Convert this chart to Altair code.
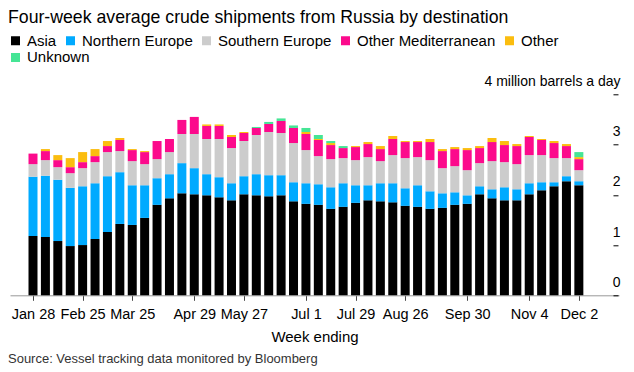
import altair as alt
import pandas as pd

FONT = "Liberation Sans"

title_text = "Four-week average crude shipments from Russia by destination"
source_text = "Source: Vessel tracking data monitored by Bloomberg"

weeks = [d.strftime("%Y-%m-%d") for d in pd.date_range("2023-01-28", periods=45, freq="7D")]

categories = ["Asia", "Northern Europe", "Southern Europe", "Other Mediterranean", "Other", "Unknown"]
colors = ["#000000", "#00aaff", "#cccccc", "#fc0a8c", "#fbbd0f", "#45e595"]

asia = [1.18, 1.16, 1.08, 0.98, 1.00, 1.12, 1.26, 1.42, 1.40, 1.54,
        1.80, 1.93, 2.03, 2.01, 1.99, 1.95, 1.89, 2.01, 1.99, 1.97,
        1.99, 1.87, 1.82, 1.80, 1.72, 1.76, 1.84, 1.89, 1.87, 1.85,
        1.78, 1.76, 1.72, 1.74, 1.80, 1.82, 2.01, 1.93, 1.89, 1.89,
        2.01, 2.09, 2.17, 2.27, 2.19]
northern_europe = [1.18, 1.22, 1.22, 1.16, 1.17, 1.11, 1.11, 1.03, 0.79, 0.65,
                   0.53, 0.48, 0.60, 0.52, 0.42, 0.40, 0.34, 0.36, 0.42, 0.42,
                   0.40, 0.38, 0.41, 0.41, 0.43, 0.47, 0.35, 0.30, 0.36, 0.38,
                   0.35, 0.43, 0.35, 0.29, 0.25, 0.17, 0.16, 0.18, 0.26, 0.22,
                   0.22, 0.16, 0.08, 0.10, 0.08]
southern_europe = [0.25, 0.31, 0.25, 0.29, 0.36, 0.42, 0.48, 0.42, 0.48, 0.42,
                   0.38, 0.44, 0.58, 0.68, 0.70, 0.76, 0.70, 0.70, 0.78, 0.86,
                   0.84, 0.78, 0.66, 0.56, 0.56, 0.50, 0.50, 0.56, 0.44, 0.56,
                   0.60, 0.56, 0.62, 0.50, 0.52, 0.50, 0.46, 0.56, 0.50, 0.50,
                   0.56, 0.54, 0.48, 0.36, 0.22]
other_med = [0.21, 0.18, 0.14, 0.12, 0.12, 0.12, 0.12, 0.22, 0.22, 0.24,
             0.36, 0.26, 0.28, 0.34, 0.26, 0.26, 0.22, 0.16, 0.14, 0.16,
             0.24, 0.30, 0.32, 0.32, 0.28, 0.20, 0.26, 0.26, 0.24, 0.32,
             0.32, 0.30, 0.36, 0.34, 0.34, 0.40, 0.30, 0.38, 0.34, 0.36,
             0.36, 0.30, 0.30, 0.24, 0.22]
other = [0.00, 0.04, 0.10, 0.18, 0.20, 0.14, 0.10, 0.04, 0.02, 0.02,
         0.00, 0.00, 0.00, 0.00, 0.03, 0.03, 0.04, 0.02, 0.00, 0.00,
         0.00, 0.00, 0.04, 0.02, 0.04, 0.00, 0.02, 0.04, 0.06, 0.06,
         0.02, 0.02, 0.06, 0.04, 0.04, 0.04, 0.04, 0.08, 0.08, 0.04,
         0.02, 0.02, 0.04, 0.04, 0.04]
unknown = [0.00, 0.00, 0.00, 0.00, 0.00, 0.00, 0.00, 0.00, 0.00, 0.00,
           0.00, 0.00, 0.00, 0.00, 0.00, 0.00, 0.00, 0.00, 0.02, 0.04,
           0.05, 0.05, 0.08, 0.08, 0.04, 0.04, 0.00, 0.00, 0.00, 0.00,
           0.00, 0.00, 0.00, 0.00, 0.00, 0.00, 0.00, 0.00, 0.00, 0.00,
           0.00, 0.00, 0.00, 0.00, 0.10]

tick_dates = [(1, 28), (2, 25), (3, 25), (4, 29), (5, 27), (7, 1), (7, 29),
              (8, 26), (9, 30), (11, 4), (12, 2)]
y_ticks = [0, 1, 2, 3, 4]

series = [asia, northern_europe, southern_europe, other_med, other, unknown]
rows = []
for ci, (cat, vals) in enumerate(zip(categories, series)):
    for w, v in zip(weeks, vals):
        rows.append({"week": w, "cat": cat, "order": ci, "value": v})
df = pd.DataFrame(rows)

W, H = 609, 201

x_enc = alt.X(
    "week:T",
    scale=alt.Scale(
        type="utc",
        domain=[alt.DateTime(year=2023, month=1, date=17, hours=20, minutes=15, utc=True),
                alt.DateTime(year=2023, month=12, date=21, hours=20, utc=True)],
    ),
    axis=alt.Axis(
        values=[alt.DateTime(year=2023, month=m, date=d, utc=True) for m, d in tick_dates],
        labelExpr="utcFormat(datum.value, '%b %-d')",
        title="Week ending",
        grid=False,
        tickSize=5,
        tickColor="#444444",
        domainColor="#999999",
        labelFont=FONT,
        labelFontSize=14.5,
        labelColor="#000000",
        labelPadding=7,
        labelFlush=False,
        labelOverlap=False,
        titleFont=FONT,
        titleFontSize=15,
        titleFontWeight="normal",
        titleColor="#000000",
        titlePadding=9,
    ),
)
y_enc = alt.Y(
    "y0:Q",
    scale=alt.Scale(domain=[0, 4], nice=False),
    axis=alt.Axis(
        orient="right",
        values=y_ticks,
        labelExpr="datum.value == 4 ? '4 million barrels a day' : datum.label",
        title=None,
        grid=False,
        domain=False,
        offset=-6,
        tickSize=5,
        tickColor="#000000",
        labelAlign="right",
        labelBaseline="alphabetic",
        labelOffset=-9,
        labelPadding=2,
        labelFont=FONT,
        labelFontSize=14,
        labelColor="#000000",
    ),
)

base = alt.Chart(df).transform_stack(
    stack="value",
    groupby=["week"],
    as_=["y0", "y1"],
    sort=[alt.SortField("order", order="ascending")],
)

legend_common = dict(
    orient="none",
    direction="horizontal",
    title=None,
    symbolType="square",
    symbolSize=81,
    symbolStrokeWidth=0,
    labelFont=FONT,
    labelFontSize=15,
    labelColor="#000000",
    labelOffset=4,
    columnPadding=6,
    padding=0,
    legendX=-2,
)

bars_main = base.transform_filter("datum.cat != 'Unknown'").mark_bar(width=9).encode(
    x=x_enc,
    y=y_enc,
    y2="y1:Q",
    color=alt.Color(
        "cat:N",
        scale=alt.Scale(domain=categories[:5], range=colors[:5]),
        legend=alt.Legend(legendY=-61.3, **legend_common),
    ),
)

bars_unknown = base.transform_filter("datum.cat == 'Unknown'").mark_bar(width=9).encode(
    x=x_enc,
    y=y_enc,
    y2="y1:Q",
    fill=alt.Fill(
        "cat:N",
        scale=alt.Scale(domain=categories[5:], range=colors[5:]),
        legend=alt.Legend(legendY=-44.3, **legend_common),
    ),
)

title_layer = alt.Chart(pd.DataFrame({"t": [title_text]})).mark_text(
    align="left", baseline="alphabetic", font=FONT, fontSize=17.7, color="#000000"
).encode(text="t:N", x=alt.value(-2), y=alt.value(-71.5))

source_layer = alt.Chart(pd.DataFrame({"t": [source_text]})).mark_text(
    align="left", baseline="alphabetic", font=FONT, fontSize=13, color="#333333"
).encode(text="t:N", x=alt.value(-2), y=alt.value(268.3))

chart = alt.layer(bars_main, bars_unknown, title_layer, source_layer).properties(
    width=W,
    height=H,
    autosize=alt.AutoSizeParams(type="none"),
    padding={"left": 2, "top": 86.3, "right": 6, "bottom": 71},
).configure_view(stroke=None)

chart.save("out.html", embed_options={"renderer": "svg", "actions": False})
